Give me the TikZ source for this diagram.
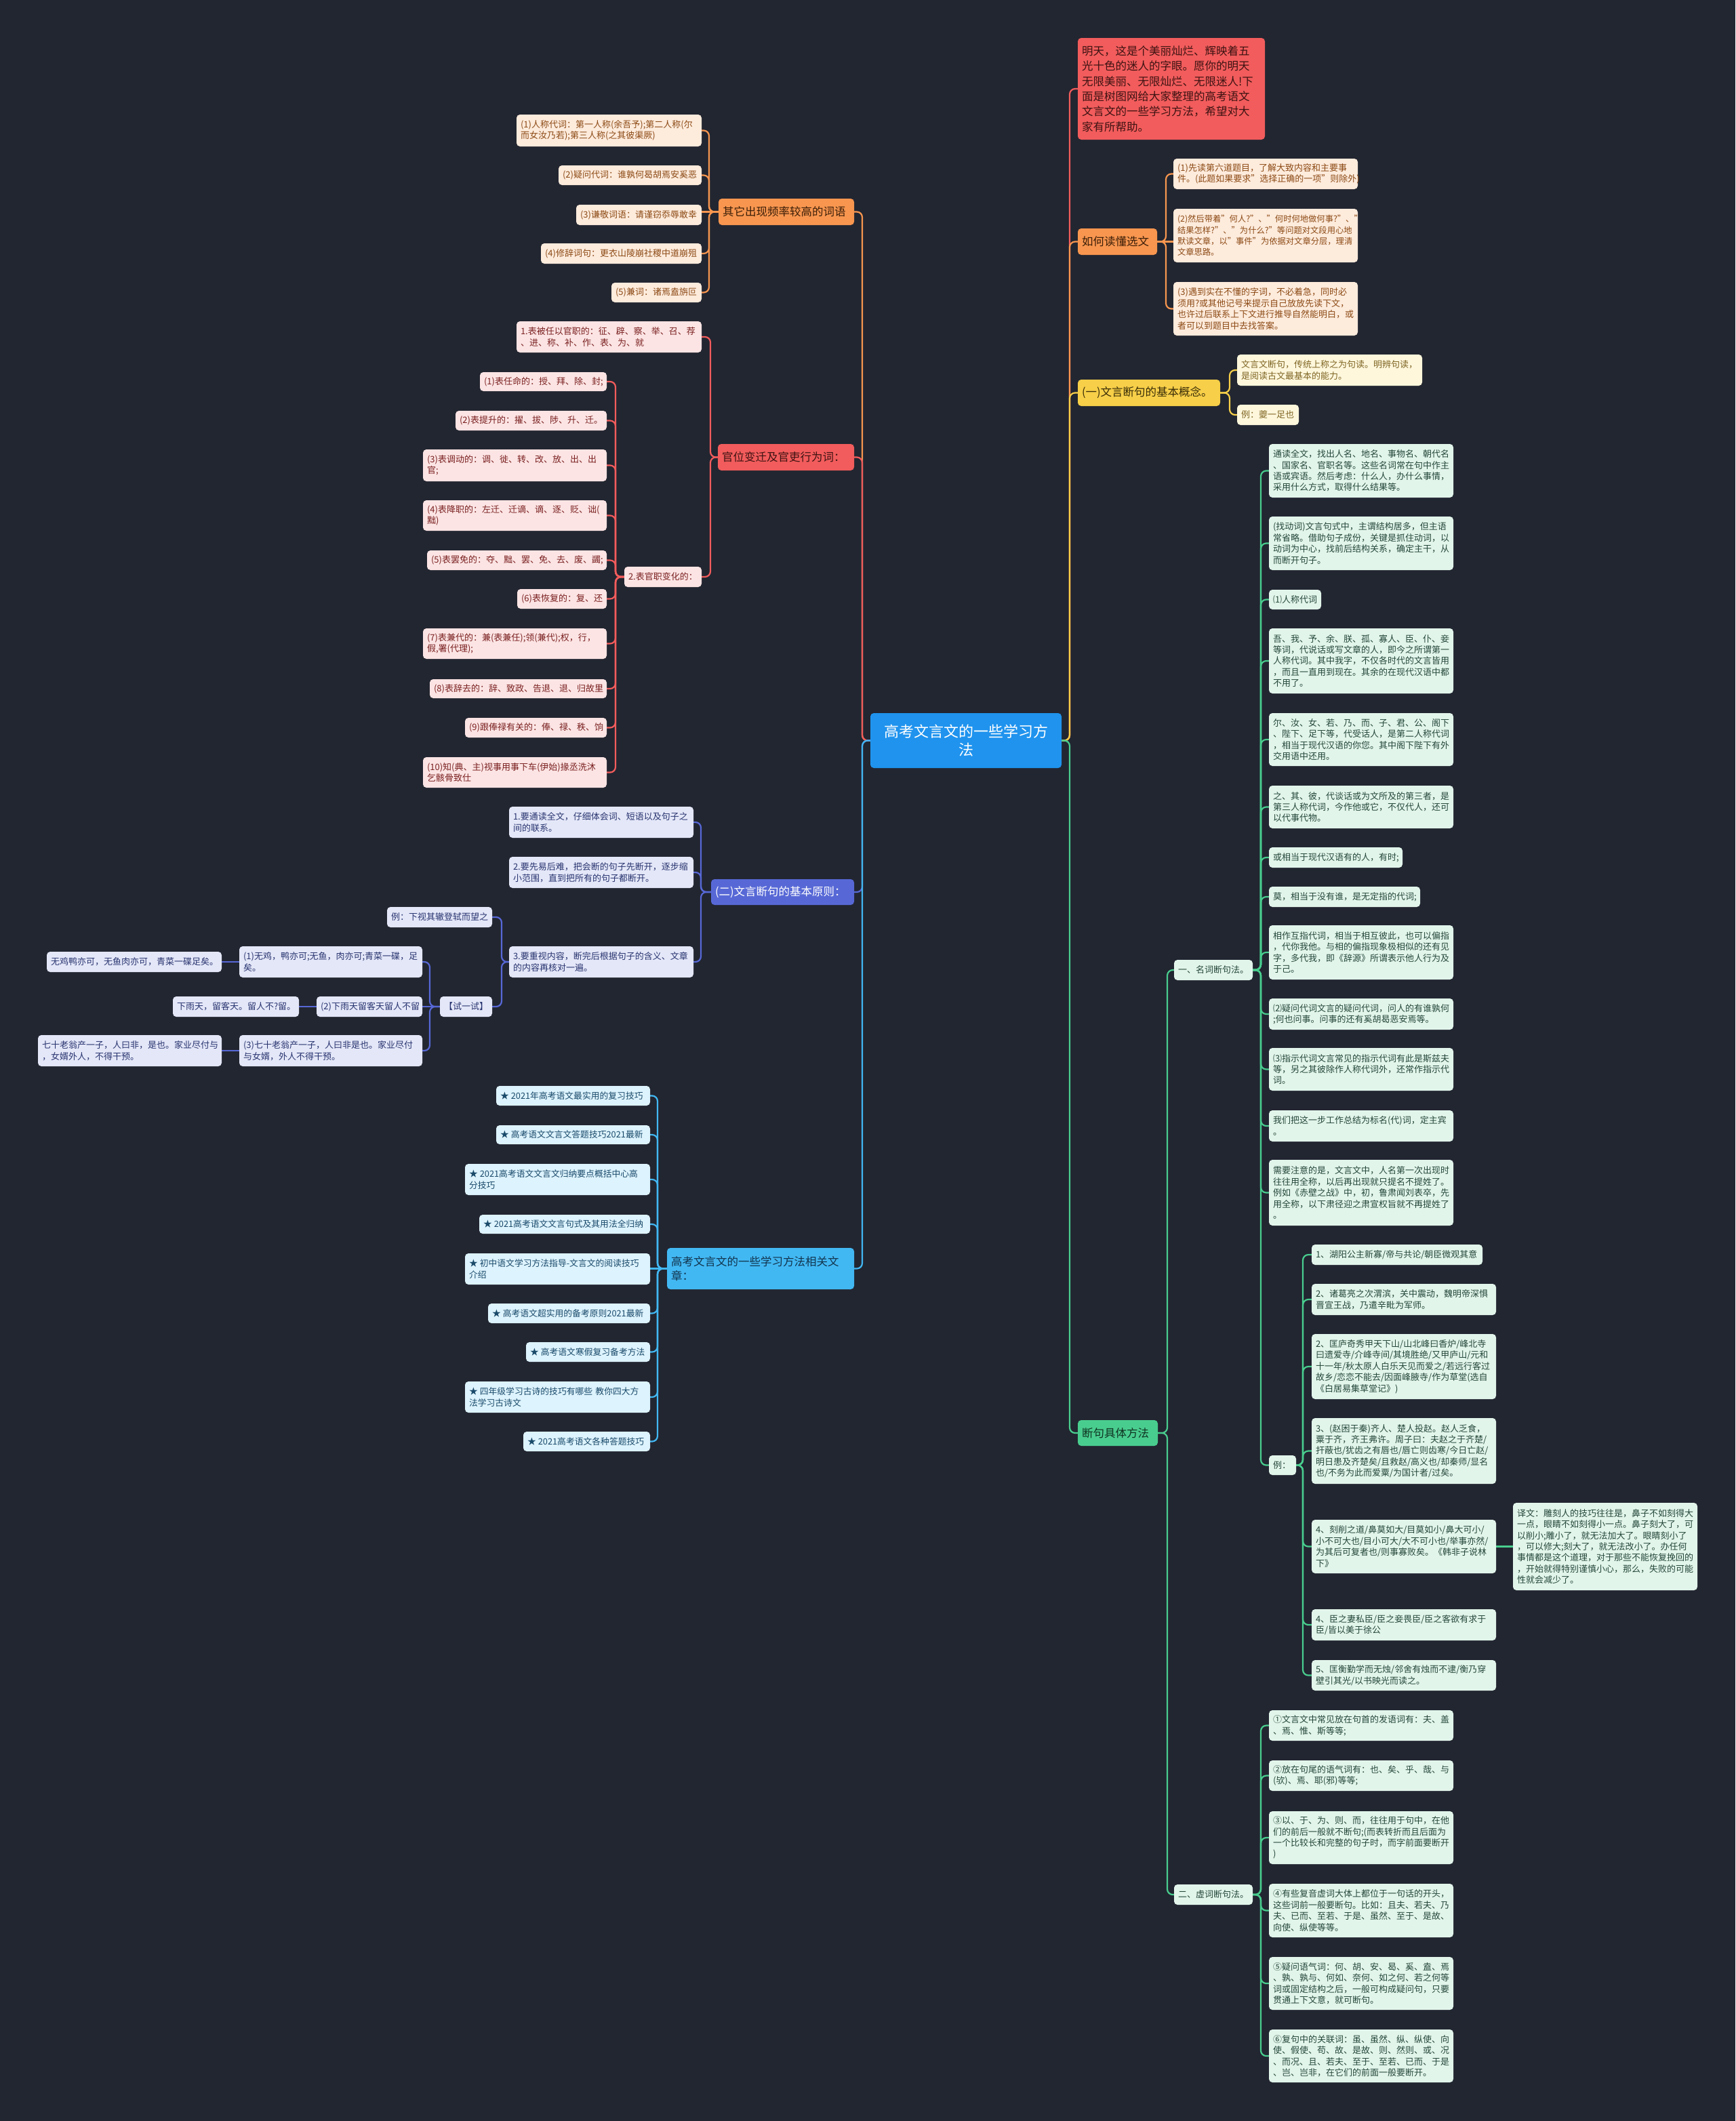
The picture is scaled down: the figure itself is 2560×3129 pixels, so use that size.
\documentclass[tikz,border=0pt]{standalone}
\usepackage{fontspec}
\setmainfont{Noto Sans CJK SC}
\usetikzlibrary{calc}
\definecolor{bgc}{HTML}{222631}
\definecolor{cCtr}{HTML}{1F93EE}
\definecolor{cRed}{HTML}{F25C5C}\definecolor{cRedC}{HTML}{FCE4E4}\definecolor{cRedT}{HTML}{7A2020}\definecolor{cRedM}{HTML}{3D1212}
\definecolor{cOr}{HTML}{F8964F}\definecolor{cOrC}{HTML}{FDEBDC}\definecolor{cOrT}{HTML}{8C4A15}\definecolor{cOrM}{HTML}{3B1E08}
\definecolor{cYe}{HTML}{F7CF48}\definecolor{cYeC}{HTML}{FEF7DC}\definecolor{cYeT}{HTML}{7E6523}\definecolor{cYeM}{HTML}{3A2E08}
\definecolor{cGr}{HTML}{49CD8E}\definecolor{cGrC}{HTML}{E2F5EB}\definecolor{cGrT}{HTML}{25473A}\definecolor{cGrM}{HTML}{0F3322}
\definecolor{cBl}{HTML}{5768D6}\definecolor{cBlC}{HTML}{E4E7F8}\definecolor{cBlT}{HTML}{28346F}
\definecolor{cLb}{HTML}{42B8F3}\definecolor{cLbC}{HTML}{DDF3FD}\definecolor{cLbT}{HTML}{1A4A6A}\definecolor{cLbM}{HTML}{12344D}
\pgfdeclarelayer{back}\pgfdeclarelayer{conns}
\pgfsetlayers{back,conns,main}
\tikzset{
 nb/.style={rounded corners=5pt, inner xsep=6pt, inner ysep=0pt, outer sep=0pt, align=left, font=\fontsize{13}{16.4}\selectfont},
 mb/.style={nb, font=\fontsize{16.5}{21}\selectfont},
 conn/.style={line width=2.2pt, rounded corners=8pt},
 sCtr/.style={nb, fill=cCtr, text=white, align=center, font=\fontsize{22}{27}\selectfont},
 sRedM/.style={mb, fill=cRed, text=cRedM}, sRedC/.style={nb, fill=cRedC, text=cRedT},
 sOrM/.style={mb, fill=cOr, text=cOrM}, sOrC/.style={nb, fill=cOrC, text=cOrT},
 sYeM/.style={mb, fill=cYe, text=cYeM}, sYeC/.style={nb, fill=cYeC, text=cYeT},
 sGrM/.style={mb, fill=cGr, text=cGrM}, sGrC/.style={nb, fill=cGrC, text=cGrT},
 sBlM/.style={mb, fill=cBl, text=white}, sBlC/.style={nb, fill=cBlC, text=cBlT},
 sLbM/.style={mb, fill=cLb, text=cLbM}, sLbC/.style={nb, fill=cLbC, text=cLbT, font=\fontsize{12.8}{16.6}\selectfont},
}
\newcommand\bx[7]{\pgfmathsetmacro\bxw{#5-#3}\pgfmathsetmacro\bxh{#6-#4}\pgfmathsetmacro\bxt{#5-#3-12}\node[#2,minimum width=\bxw pt,minimum height=\bxh pt,text width=\bxt pt,anchor=north west] (#1) at (#3,#4) {#7};}
\newcommand\cR[4]{\draw[conn,#1] (#2.east) -- (#2.east -| #3) |- (#4.west);}
\newcommand\cL[4]{\draw[conn,#1] (#2.west) -- (#2.west -| #3) |- (#4.east);}
\newcommand\sR[3]{\draw[conn,#1] (#2.east) -- (#3.west |- #2.east);}
\newcommand\sL[3]{\draw[conn,#1] (#2.west) -- (#3.east |- #2.west);}
\newcommand\st{★\kern3pt}
\begin{document}
\begin{tikzpicture}[x=1pt,y=-1pt]
\begin{pgfonlayer}{back}
\fill[bgc] (0,0) rectangle (2560,3129);
\end{pgfonlayer}
\useasboundingbox (0,0) rectangle (2560,3129);
% centre
\bx{ctr}{sCtr}{1284}{1052}{1566}{1133}{高考文言文的一些学习方\\法}
% ---------- right ----------
\bx{intro}{sRedM,font=\fontsize{16.5}{22.4}\selectfont}{1590}{56}{1866}{206}{明天，这是个美丽灿烂、辉映着五\\光十色的迷人的字眼。愿你的明天\\无限美丽、无限灿烂、无限迷人!下\\面是树图网给大家整理的高考语文\\文言文的一些学习方法，希望对大\\家有所帮助。}
\bx{read}{sOrM}{1590}{337}{1707}{376}{如何读懂选文}
\bx{c1}{sOrC}{1731}{234}{2003}{279}{(1)先读第六道题目，了解大致内容和主要事\\件。(此题如果要求"选择正确的一项"则除外)}
\bx{c2}{sOrC,font=\fontsize{12.3}{16.4}\selectfont}{1731}{308}{2003}{387}{(2)然后带着"何人?"、"何时何地做何事?"、"\\结果怎样?"、"为什么?"等问题对文段用心地\\默读文章，以"事件"为依据对文章分层，理清\\文章思路。}
\bx{c3}{sOrC}{1731}{416}{2003}{495}{(3)遇到实在不懂的字词，不必着急，同时必\\须用?或其他记号来提示自己放放先读下文，\\也许过后联系上下文进行推导自然能明白，或\\者可以到题目中去找答案。}
\bx{con}{sYeM}{1590}{560}{1800}{599}{(一)文言断句的基本概念。}
\bx{k1}{sYeC}{1825}{523}{2098}{569}{文言文断句，传统上称之为句读。明辨句读，\\是阅读古文最基本的能力。}
\bx{k2}{sYeC}{1825}{597}{1916}{627}{例：夔一足也}
\bx{meth}{sGrM}{1590}{2095}{1708}{2133}{断句具体方法}
\bx{ming}{sGrC}{1732}{1416}{1848}{1446}{一、名词断句法。}
\bx{xu}{sGrC}{1732}{2780}{1848}{2810}{二、虚词断句法。}
\bx{n1}{sGrC}{1872}{655}{2144}{734}{通读全文，找出人名、地名、事物名、朝代名\\、国家名、官职名等。这些名词常在句中作主\\语或宾语。然后考虑：什么人，办什么事情，\\采用什么方式，取得什么结果等。}
\bx{n2}{sGrC}{1872}{762}{2144}{841}{(找动词)文言句式中，主谓结构居多，但主语\\常省略。借助句子成份，关键是抓住动词，以\\动词为中心，找前后结构关系，确定主干，从\\而断开句子。}
\bx{n3}{sGrC}{1872}{870}{1949}{899}{⑴人称代词}
\bx{n4}{sGrC}{1872}{927}{2144}{1023}{吾、我、予、余、朕、孤、寡人、臣、仆、妾\\等词，代说话或写文章的人，即今之所谓第一\\人称代词。其中我字，不仅各时代的文言皆用\\，而且一直用到现在。其余的在现代汉语中都\\不用了。}
\bx{n5}{sGrC}{1872}{1052}{2144}{1130}{尔、汝、女、若、乃、而、子、君、公、阁下\\、陛下、足下等，代受话人，是第二人称代词\\，相当于现代汉语的你您。其中阁下陛下有外\\交用语中还用。}
\bx{n6}{sGrC}{1872}{1159}{2144}{1222}{之、其、彼，代谈话或为文所及的第三者，是\\第三人称代词，今作他或它，不仅代人，还可\\以代事代物。}
\bx{n7}{sGrC}{1872}{1250}{2069}{1280}{或相当于现代汉语有的人，有时;}
\bx{n8}{sGrC}{1872}{1308}{2095}{1338}{莫，相当于没有谁，是无定指的代词;}
\bx{n9}{sGrC}{1872}{1365}{2144}{1445}{相作互指代词，相当于相互彼此，也可以偏指\\，代你我他。与相的偏指现象极相似的还有见\\字，多代我，即《辞源》所谓表示他人行为及\\于己。}
\bx{n10}{sGrC}{1872}{1473}{2144}{1519}{⑵疑问代词文言的疑问代词，问人的有谁孰何\\;何也问事。问事的还有奚胡曷恶安焉等。}
\bx{n11}{sGrC}{1872}{1546}{2144}{1609}{⑶指示代词文言常见的指示代词有此是斯兹夫\\等，另之其彼除作人称代词外，还常作指示代\\词。}
\bx{n12}{sGrC}{1872}{1638}{2144}{1684}{我们把这一步工作总结为标名(代)词，定主宾\\。}
\bx{n13}{sGrC}{1872}{1711}{2144}{1808}{需要注意的是，文言文中，人名第一次出现时\\往往用全称，以后再出现就只提名不提姓了。\\例如《赤壁之战》中，初，鲁肃闻刘表卒，先\\用全称，以下肃径迎之肃宣权旨就不再提姓了\\。}
\bx{li}{sGrC}{1872}{2147}{1912}{2176}{例：}
\bx{e1}{sGrC}{1935}{1836}{2187}{1866}{1、湖阳公主新寡/帝与共论/朝臣微观其意}
\bx{e2}{sGrC}{1935}{1894}{2207}{1940}{2、诸葛亮之次渭滨，关中震动，魏明帝深惧\\晋宣王战，乃遣辛毗为军师。}
\bx{e3}{sGrC}{1935}{1968}{2207}{2064}{2、匡庐奇秀甲天下山/山北峰曰香炉/峰北寺\\曰遗爱寺/介峰寺间/其境胜绝/又甲庐山/元和\\十一年/秋太原人白乐天见而爱之/若远行客过\\故乡/恋恋不能去/因面峰腋寺/作为草堂(选自\\《白居易集草堂记》)}
\bx{e4}{sGrC}{1935}{2092}{2207}{2189}{3、(赵困于秦)齐人、楚人投赵。赵人乏食，\\粟于齐，齐王弗许。周子曰：夫赵之于齐楚/\\扞蔽也/犹齿之有唇也/唇亡则齿寒/今日亡赵/\\明日患及齐楚矣/且救赵/高义也/却秦师/显名\\也/不务为此而爱粟/为国计者/过矣。}
\bx{e5}{sGrC}{1935}{2242}{2207}{2321}{4、刻削之道/鼻莫如大/目莫如小/鼻大可小/\\小不可大也/目小可大/大不可小也/举事亦然/\\为其后可复者也/则事寡败矣。《韩非子说林\\下》}
\bx{e6}{sGrC}{1935}{2374}{2207}{2420}{4、臣之妻私臣/臣之妾畏臣/臣之客欲有求于\\臣/皆以美于徐公}
\bx{e7}{sGrC}{1935}{2449}{2207}{2494}{5、匡衡勤学而无烛/邻舍有烛而不逮/衡乃穿\\壁引其光/以书映光而读之。}
\bx{tr}{sGrC}{2232}{2217}{2504}{2346}{译文：雕刻人的技巧往往是，鼻子不如刻得大\\一点，眼睛不如刻得小一点。鼻子刻大了，可\\以削小;雕小了，就无法加大了。眼睛刻小了\\，可以修大;刻大了，就无法改小了。办任何\\事情都是这个道理，对于那些不能恢复挽回的\\，开始就得特别谨慎小心，那么，失败的可能\\性就会减少了。}
\bx{v1}{sGrC}{1872}{2523}{2144}{2568}{①文言文中常见放在句首的发语词有：夫、盖\\、焉、惟、斯等等;}
\bx{v2}{sGrC}{1872}{2597}{2144}{2642}{②放在句尾的语气词有：也、矣、乎、哉、与\\(欤)、焉、耶(邪)等等;}
\bx{v3}{sGrC}{1872}{2672}{2144}{2750}{③以、于、为、则、而，往往用于句中，在他\\们的前后一般就不断句;(而表转折而且后面为\\一个比较长和完整的句子时，而字前面要断开\\)}
\bx{v4}{sGrC}{1872}{2779}{2144}{2858}{④有些复音虚词大体上都位于一句话的开头，\\这些词前一般要断句。比如：且夫、若夫、乃\\夫、已而、至若、于是、虽然、至于、是故、\\向使、纵使等等。}
\bx{v5}{sGrC}{1872}{2887}{2144}{2965}{⑤疑问语气词：何、胡、安、曷、奚、盍、焉\\、孰、孰与、何如、奈何、如之何、若之何等\\词或固定结构之后，一般可构成疑问句，只要\\贯通上下文意，就可断句。}
\bx{v6}{sGrC}{1872}{2994}{2144}{3072}{⑥复句中的关联词：虽、虽然、纵、纵使、向\\使、假使、苟、故、是故、则、然则、或、况\\、而况、且、若夫、至于、至若、已而、于是\\、岂、岂非，在它们的前面一般要断开。}
% ---------- left ----------
\bx{L1}{sOrM}{1060}{293}{1260}{332}{其它出现频率较高的词语}
\bx{o1}{sOrC}{762}{169}{1035}{216}{(1)人称代词：第一人称(余吾予);第二人称(尔\\而女汝乃若);第三人称(之其彼渠厥)}
\bx{o2}{sOrC}{824}{244}{1035}{273}{(2)疑问代词：谁孰何曷胡焉安奚恶}
\bx{o3}{sOrC}{850}{302}{1035}{332}{(3)谦敬词语：请谨窃忝辱敢幸}
\bx{o4}{sOrC}{798}{359}{1035}{389}{(4)修辞词句：更衣山陵崩社稷中道崩殂}
\bx{o5}{sOrC}{902}{417}{1035}{446}{(5)兼词：诸焉盍旃叵}
\bx{L2}{sRedM}{1059}{655}{1260}{694}{官位变迁及官吏行为词：}
\bx{g1}{sRedC}{762}{474}{1035}{520}{1.表被任以官职的：征、辟、察、举、召、荐\\、进、称、补、作、表、为、就}
\bx{g2}{sRedC}{921}{836}{1035}{866}{2.表官职变化的：}
\bx{h1}{sRedC}{708}{549}{895}{577}{(1)表任命的：授、拜、除、封;}
\bx{h2}{sRedC}{672}{606}{895}{635}{(2)表提升的：擢、拔、陟、升、迁。}
\bx{h3}{sRedC}{624}{663}{895}{710}{(3)表调动的：调、徙、转、改、放、出、出\\官;}
\bx{h4}{sRedC}{624}{738}{895}{783}{(4)表降职的：左迁、迁谪、谪、逐、贬、诎(\\黜)}
\bx{h5}{sRedC}{630}{812}{895}{841}{(5)表罢免的：夺、黜、罢、免、去、废、蠲;}
\bx{h6}{sRedC}{763}{869}{895}{898}{(6)表恢复的：复、还}
\bx{h7}{sRedC}{624}{927}{895}{972}{(7)表兼代的：兼(表兼任);领(兼代);权，行，\\假,署(代理);}
\bx{h8}{sRedC}{634}{1002}{895}{1030}{(8)表辞去的：辞、致政、告退、退、归故里}
\bx{h9}{sRedC}{686}{1059}{895}{1088}{(9)跟俸禄有关的：俸、禄、秩、饷}
\bx{h10}{sRedC}{624}{1117}{895}{1162}{(10)知(典、主)视事用事下车(伊始)掾丞洗沐\\乞骸骨致仕}
\bx{L3}{sBlM}{1049}{1297}{1260}{1335}{(二)文言断句的基本原则：}
\bx{p1}{sBlC}{751}{1190}{1023}{1236}{1.要通读全文，仔细体会词、短语以及句子之\\间的联系。}
\bx{p2}{sBlC}{751}{1264}{1023}{1310}{2.要先易后难，把会断的句子先断开，逐步缩\\小范围，直到把所有的句子都断开。}
\bx{p3}{sBlC}{751}{1396}{1023}{1442}{3.要重视内容，断完后根据句子的含义、文章\\的内容再核对一遍。}
\bx{q1}{sBlC}{571}{1338}{726}{1368}{例：下视其辙登轼而望之}
\bx{q2}{sBlC}{649}{1470}{726}{1500}{【试一试】}
\bx{r1}{sBlC}{353}{1396}{623}{1442}{(1)无鸡，鸭亦可;无鱼，肉亦可;青菜一碟，足\\矣。}
\bx{r2}{sBlC}{467}{1470}{623}{1500}{(2)下雨天留客天留人不留}
\bx{r3}{sBlC}{353}{1527}{623}{1573}{(3)七十老翁产一子，人曰非是也。家业尽付\\与女婿，外人不得干预。}
\bx{s1}{sBlC}{69}{1404}{327}{1434}{无鸡鸭亦可，无鱼肉亦可，青菜一碟足矣。}
\bx{s2}{sBlC}{255}{1470}{441}{1500}{下雨天，留客天。留人不?留。}
\bx{s3}{sBlC}{56}{1527}{327}{1573}{七十老翁产一子，人曰非，是也。家业尽付与\\，女婿外人，不得干预。}
\bx{L4}{sLbM}{984}{1841}{1260}{1902}{高考文言文的一些学习方法相关文\\章：}
\bx{a1}{sLbC}{732}{1602}{959}{1631}{\st 2021年高考语文最实用的复习技巧}
\bx{a2}{sLbC}{732}{1660}{959}{1688}{\st 高考语文文言文答题技巧2021最新}
\bx{a3}{sLbC}{686}{1717}{959}{1763}{\st 2021高考语文文言文归纳要点概括中心高\\分技巧}
\bx{a4}{sLbC}{707}{1792}{959}{1820}{\st 2021高考语文文言句式及其用法全归纳}
\bx{a5}{sLbC}{686}{1849}{959}{1895}{\st 初中语文学习方法指导-文言文的阅读技巧\\介绍}
\bx{a6}{sLbC}{720}{1923}{959}{1952}{\st 高考语文超实用的备考原则2021最新}
\bx{a7}{sLbC}{776}{1980}{959}{2009}{\st 高考语文寒假复习备考方法}
\bx{a8}{sLbC}{686}{2038}{959}{2084}{\st 四年级学习古诗的技巧有哪些~教你四大方\\法学习古诗文}
\bx{a9}{sLbC}{772}{2112}{959}{2141}{\st 2021高考语文各种答题技巧}
% ---------- connectors ----------
\coordinate (tR) at (1578,0);\coordinate (tL) at (1272,0);
\coordinate (tRead) at (1720,0);\coordinate (tCon) at (1814,0);
\coordinate (tMeth) at (1722,0);\coordinate (tMing) at (1860,0);
\coordinate (tLi) at (1922,0);
\coordinate (tL1) at (1046,0);\coordinate (tL2) at (1048,0);\coordinate (tG2) at (908,0);
\coordinate (tL3) at (1034,0);\coordinate (tP3) at (740,0);\coordinate (tQ2) at (634,0);
\coordinate (tL4) at (970,0);
\begin{pgfonlayer}{conns}
\cR{cRed}{ctr}{tR}{intro}\cR{cOr}{ctr}{tR}{read}\cR{cYe}{ctr}{tR}{con}\cR{cGr}{ctr}{tR}{meth}
\cR{cOr}{read}{tRead}{c1}\sR{cOr}{read}{c2}\cR{cOr}{read}{tRead}{c3}
\cR{cYe}{con}{tCon}{k1}\cR{cYe}{con}{tCon}{k2}
\cR{cGr}{meth}{tMeth}{ming}\cR{cGr}{meth}{tMeth}{xu}
\foreach \n in {n1,n2,n3,n4,n5,n6,n7,n8,n9,n10,n11,n12,n13,li}{\cR{cGr}{ming}{tMing}{\n}}
\foreach \n in {e1,e2,e3,e4,e5,e6,e7}{\cR{cGr}{li}{tLi}{\n}}
\sR{cGr}{e5}{tr}
\foreach \n in {v1,v2,v3,v4,v5,v6}{\cR{cGr}{xu}{tMing}{\n}}
\cL{cOr}{ctr}{tL}{L1}\cL{cRed}{ctr}{tL}{L2}\cL{cBl}{ctr}{tL}{L3}\cL{cLb}{ctr}{tL}{L4}
\foreach \n in {o1,o2,o4,o5}{\cL{cOr}{L1}{tL1}{\n}}\sL{cOr}{L1}{o3}
\cL{cRed}{L2}{tL2}{g1}\cL{cRed}{L2}{tL2}{g2}
\foreach \n in {h1,h2,h3,h4,h5,h6,h7,h8,h9,h10}{\cL{cRed}{g2}{tG2}{\n}}
\foreach \n in {p1,p2,p3}{\cL{cBl}{L3}{tL3}{\n}}
\cL{cBl}{p3}{tP3}{q1}\cL{cBl}{p3}{tP3}{q2}
\cL{cBl}{q2}{tQ2}{r1}\sL{cBl}{q2}{r2}\cL{cBl}{q2}{tQ2}{r3}
\sL{cBl}{r1}{s1}\sL{cBl}{r2}{s2}\sL{cBl}{r3}{s3}
\foreach \n in {a1,a2,a3,a4,a6,a7,a8,a9}{\cL{cLb}{L4}{tL4}{\n}}\sL{cLb}{L4}{a5}
\end{pgfonlayer}
\end{tikzpicture}
\end{document}
